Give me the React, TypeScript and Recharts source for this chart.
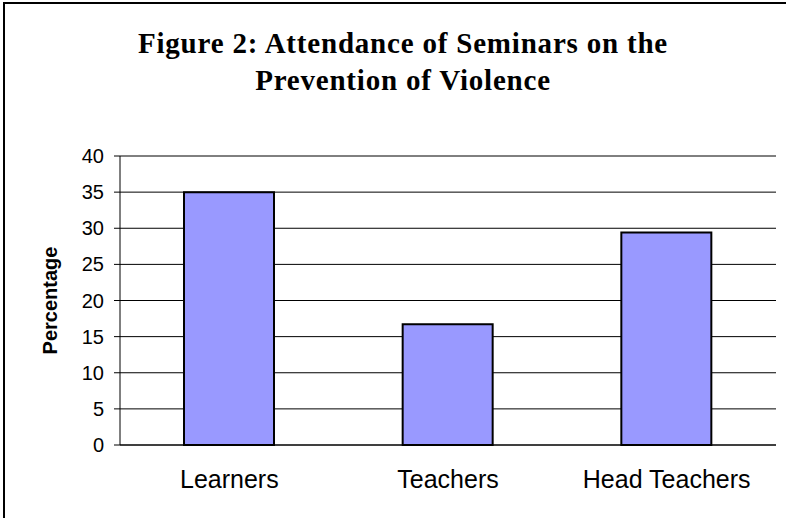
import { BarChart, Bar, XAxis, YAxis, CartesianGrid } from "recharts";

const categories = ["Learners", "Teachers", "Head Teachers"];
const percentages = [35, 16.7, 29.4];
const yTicks = [0, 5, 10, 15, 20, 25, 30, 35, 40];
const edgeTicks = [0, 1, 2, 3];

const data = categories.map((name, i) => ({ name, value: percentages[i] }));

const FONT = "'Liberation Sans', Arial, sans-serif";

export default function App() {
  return (
    <div
      style={{
        position: "absolute",
        top: 0,
        left: 0,
        width: 786,
        height: 518,
        background: "#fff",
        fontFamily: FONT,
      }}
    >
      <div
        style={{
          position: "absolute",
          left: 3,
          top: 2,
          width: 783,
          height: 516,
          borderLeft: "2px solid #000",
          borderTop: "2px solid #000",
        }}
      />
      <div
        style={{
          position: "absolute",
          left: 0,
          top: 25,
          width: 806,
          textAlign: "center",
          fontFamily: "'Liberation Serif', 'Times New Roman', serif",
          fontWeight: "bold",
          fontSize: 29,
          letterSpacing: 0.8,
          lineHeight: "37px",
          color: "#000",
        }}
      >
        Figure 2: Attendance of Seminars on the
        <br />
        Prevention of Violence
      </div>
      <BarChart
        width={786}
        height={518}
        data={data}
        margin={{ top: 156, right: 10, left: 0, bottom: 0 }}
        style={{ position: "absolute", top: 0, left: 0 }}
      >
        <CartesianGrid vertical={false} stroke="#000" xAxisId="a_edges" />
        <XAxis
          xAxisId="b_cat"
          dataKey="name"
          axisLine={false}
          tickLine={false}
          height={67}
          tickMargin={13}
          tick={{ fontSize: 25, fill: "#000", fontFamily: FONT }}
        />
        <XAxis
          xAxisId="a_edges"
          type="number"
          domain={[0, 3]}
          ticks={edgeTicks}
          interval={0}
          tick={false}
          tickSize={6}
          tickLine={{ stroke: "#000" }}
          axisLine={{ stroke: "#000" }}
          height={6}
        />
        <YAxis
          domain={[0, 40]}
          ticks={yTicks}
          interval={0}
          width={120}
          tickSize={6}
          tickMargin={10}
          axisLine={{ stroke: "#000" }}
          tickLine={{ stroke: "#000" }}
          tick={{ fontSize: 20, fill: "#000", fontFamily: FONT }}
          label={{
            value: "Percentage",
            angle: -90,
            position: "center",
            dx: -10,
            style: { fontSize: 20, fontWeight: "bold", fill: "#000", fontFamily: FONT },
          }}
        />
        <Bar
          xAxisId="b_cat"
          dataKey="value"
          fill="#9999FF"
          stroke="#000"
          strokeWidth={2}
          barSize={90}
          isAnimationActive={false}
        />
      </BarChart>
    </div>
  );
}
